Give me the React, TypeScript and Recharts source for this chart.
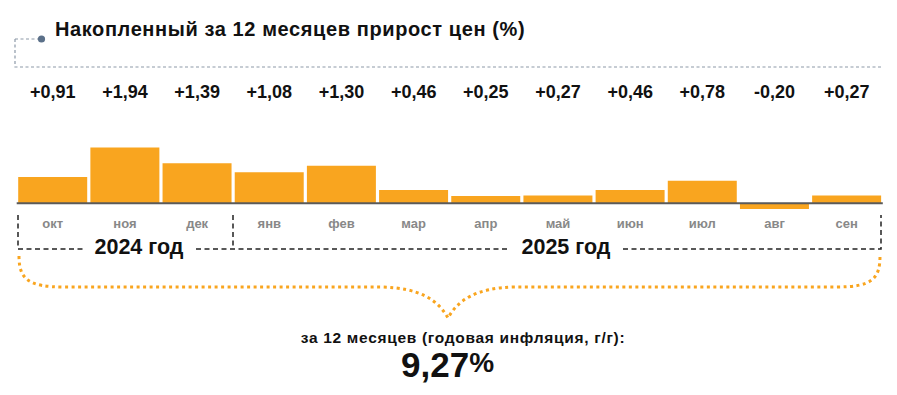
import React from 'react';
import { BarChart, Bar, XAxis, YAxis, ReferenceLine } from 'recharts';

const months = ['окт', 'ноя', 'дек', 'янв', 'фев', 'мар', 'апр', 'май', 'июн', 'июл', 'авг', 'сен'];
const values = [0.91, 1.94, 1.39, 1.08, 1.3, 0.46, 0.25, 0.27, 0.46, 0.78, -0.2, 0.27];
const valueLabels = ['+0,91', '+1,94', '+1,39', '+1,08', '+1,30', '+0,46', '+0,25', '+0,27', '+0,46', '+0,78', '-0,20', '+0,27'];
const yearLabels = ['2024 год', '2025 год'];
const title = 'Накопленный за 12 месяцев прирост цен (%)';
const subtitle = 'за 12 месяцев (годовая инфляция, г/г):';
const total = '9,27';

const data = months.map((m, i) => ({ month: m, value: values[i], label: valueLabels[i] }));

const FONT = '"Liberation Sans", Arial, Helvetica, sans-serif';
const ORANGE = '#F9A51F';

export default function App() {
  return (
    <div style={{ position: 'absolute', left: 0, top: 0, width: 897, height: 395, background: '#fff', fontFamily: FONT }}>
      <BarChart
        width={897}
        height={395}
        data={data}
        barCategoryGap={1.5}
        margin={{ top: 79.94, right: 14.2, bottom: 153.06, left: 16.7 }}
        style={{ position: 'absolute', left: 0, top: 0 }}
      >
        <YAxis hide domain={[-0.3, 2.2]} />
        <XAxis
          xAxisId="top"
          orientation="top"
          dataKey="label"
          height={60}
          axisLine={false}
          tickLine={false}
          tickSize={0}
          tickMargin={41.5}
          interval={0}
          tick={{ fill: '#111', fontSize: 18, fontWeight: 700, fontFamily: FONT }}
        />
        <XAxis
          xAxisId="bottom"
          orientation="bottom"
          dataKey="month"
          height={30}
          axisLine={false}
          tickLine={false}
          tickSize={0}
          tickMargin={6.5}
          interval={0}
          tick={{ fill: '#888888', fontSize: 13, fontWeight: 700, fontFamily: FONT }}
        />
        <Bar xAxisId="bottom" dataKey="value" fill={ORANGE} isAnimationActive={false} />
        <ReferenceLine xAxisId="bottom" y={0} stroke="#5a5a5a" strokeWidth={2} />
      </BarChart>
      <svg width={897} height={395} style={{ position: 'absolute', left: 0, top: 0, pointerEvents: 'none' }}>
        {/* title decoration */}
        <path d="M15 39 L38 39 M15 39 L15 67 L881 67" fill="none" stroke="#8d99a8" strokeWidth={1.2} strokeDasharray="3 2.5" />
        <circle cx={41.5} cy={39} r={3.6} fill="#5b7089" />
        <text x={55} y={35.5} fontSize={20} letterSpacing={0.6} fontWeight={700} fill="#111" fontFamily={FONT}>{title}</text>

        {/* year brackets */}
        <g stroke="#222" strokeWidth={1.5} strokeDasharray="5 3.5" fill="none">
          <path d="M18 215 L18 249 L84 249" />
          <path d="M233 215 L233 249" />
          <path d="M196 249 L509 249" />
          <path d="M623 249 L881 249 L881 215" />
        </g>
        <text x={139} y={253.5} textAnchor="middle" fontSize={21.5} fontWeight={700} fill="#111" fontFamily={FONT}>{yearLabels[0]}</text>
        <text x={566} y={253.5} textAnchor="middle" fontSize={21.5} fontWeight={700} fill="#111" fontFamily={FONT}>{yearLabels[1]}</text>

        {/* orange brace */}
        <path
          d="M19 256 C19 279 28 287 64 287 L382 287 C420 288 438 300 448 318 C458 300 476 288 514 287 L836 287 C872 287 880 279 880 256"
          fill="none"
          stroke={ORANGE}
          strokeWidth={3}
          strokeDasharray="3 3.5"
        />

        <text x={463} y={342.5} textAnchor="middle" fontSize={15.5} letterSpacing={0.7} fontWeight={700} fill="#111" fontFamily={FONT}>{subtitle}</text>
        <text x={401} y={377} fontSize={35} fontWeight={700} fill="#111" fontFamily={FONT}>
          {total}
          <tspan fontSize={28} dy={-5}>%</tspan>
        </text>
      </svg>
    </div>
  );
}
